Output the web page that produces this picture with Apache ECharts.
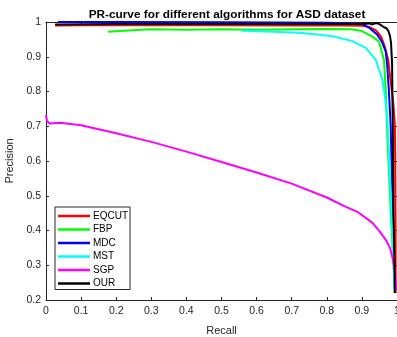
<!DOCTYPE html>
<html><head><meta charset="utf-8">
<script src="https://cdn.jsdelivr.net/npm/echarts@6/dist/echarts.min.js"></script>
<style>html,body{margin:0;padding:0;background:#fff}#c{width:397px;height:337px}</style>
</head><body><div id="c"></div>
<script>
var seriesNames = ['EQCUT', 'FBP', 'MDC', 'MST', 'SGP', 'OUR'];
var seriesColors = ['#ff0000', '#00ff00', '#0000ff', '#00ffff', '#ff00ff', '#000000'];
var xTicks = [0, 0.1, 0.2, 0.3, 0.4, 0.5, 0.6, 0.7, 0.8, 0.9, 1];
var yTicks = [0.2, 0.3, 0.4, 0.5, 0.6, 0.7, 0.8, 0.9, 1];

// [recall, precision]
var eqcut = [[0.026,0.99],[0.1,0.991],[0.3,0.991],[0.5,0.991],[0.7,0.99],[0.85,0.99],[0.9,0.989],[0.92,0.986],[0.94,0.976],[0.955,0.957],[0.965,0.93],[0.975,0.89],[0.983,0.82],[0.99,0.76],[0.994,0.7],[0.995,0.6],[0.996,0.4],[0.996,0.22]];
var fbp = [[0.177,0.972],[0.22,0.975],[0.3,0.979],[0.4,0.978],[0.5,0.979],[0.6,0.978],[0.7,0.979],[0.8,0.98],[0.87,0.979],[0.9,0.974],[0.93,0.958],[0.949,0.943],[0.963,0.89],[0.968,0.8],[0.973,0.66],[0.982,0.46],[0.99,0.3],[0.994,0.22]];
var mdc = [[0.034,1.0],[0.2,1.0],[0.5,0.999],[0.8,0.998],[0.9,0.995],[0.92,0.984],[0.944,0.963],[0.957,0.943],[0.968,0.915],[0.972,0.876],[0.977,0.8],[0.982,0.7],[0.987,0.5],[0.991,0.35],[0.994,0.22]];
var mst = [[0.557,0.975],[0.65,0.972],[0.72,0.969],[0.78,0.963],[0.82,0.958],[0.873,0.945],[0.912,0.925],[0.94,0.89],[0.958,0.835],[0.965,0.79],[0.972,0.73],[0.98,0.55],[0.988,0.36],[0.994,0.22]];
var sgp = [[0,0.732],[0.003,0.715],[0.01,0.708],[0.04,0.71],[0.1,0.703],[0.2,0.68],[0.3,0.655],[0.4,0.627],[0.5,0.597],[0.6,0.567],[0.7,0.535],[0.8,0.495],[0.85,0.47],[0.89,0.452],[0.93,0.422],[0.95,0.398],[0.97,0.37],[0.98,0.35],[0.99,0.31],[0.995,0.27],[0.998,0.23]];
var our = [[0.026,0.993],[0.2,0.994],[0.5,0.994],[0.8,0.994],[0.9,0.994],[0.92,0.996],[0.93,0.993],[0.94,0.997],[0.95,0.994],[0.963,0.985],[0.97,0.982],[0.975,0.975],[0.98,0.96],[0.983,0.94],[0.986,0.88],[0.988,0.7],[0.99,0.45],[0.993,0.3],[0.994,0.22]];

var allData = [eqcut, fbp, mdc, mst, sgp, our];
var FONT = 'Liberation Sans, Arial, sans-serif';
var axisCol = '#262626';

var chart = echarts.init(document.getElementById('c'), null, {renderer: 'canvas'});
function baseAxis(extra) {
  return Object.assign({
    type: 'value', interval: 0.1,
    axisLine: {show: true, onZero: false, lineStyle: {color: axisCol, width: 1}},
    axisTick: {show: true, inside: true, length: 3, lineStyle: {color: axisCol}},
    splitLine: {show: false}
  }, extra);
}
chart.setOption({
  animation: false,
  title: {text: 'PR-curve for different algorithms for ASD dataset', left: 222, top: 4, textAlign: 'center',
    textStyle: {fontFamily: FONT, fontSize: 11.8, fontWeight: 'bold', color: '#000'}},
  grid: {left: 46, top: 22, width: 351, height: 278, containLabel: false, outerBoundsMode: 'none'},
  legend: {orient: 'vertical', left: 55, top: 207, data: seriesNames,
    icon: 'rect', itemWidth: 32, itemHeight: 2.5, itemGap: 1.5,
    padding: [3, 2, 0, 3], borderColor: '#262626', borderWidth: 1, backgroundColor: '#fff',
    textStyle: {fontFamily: FONT, fontSize: 10, color: '#000', lineHeight: 12, padding: [0,0,0,-2]}},
  xAxis: [
    baseAxis({min: 0, max: 1, position: 'bottom', name: 'Recall', nameLocation: 'middle', nameGap: 25,
      nameTextStyle: {fontFamily: FONT, fontSize: 11, color: axisCol},
      axisLabel: {fontFamily: FONT, fontSize: 10.5, color: axisCol, margin: 6}}),
    baseAxis({min: 0, max: 1, position: 'top', axisLabel: {show: false}})
  ],
  yAxis: [
    baseAxis({min: 0.2, max: 1, position: 'left', name: 'Precision', nameLocation: 'middle', nameGap: 30,
      nameTextStyle: {fontFamily: FONT, fontSize: 11, color: axisCol},
      axisLabel: {fontFamily: FONT, fontSize: 10.5, color: axisCol, margin: 5}}),
    baseAxis({min: 0.2, max: 1, position: 'right', axisLabel: {show: false}})
  ],
  series: seriesNames.map(function (n, i) {
    return {name: n, type: 'line', data: allData[i], showSymbol: false, symbol: 'none',
      lineStyle: {color: seriesColors[i], width: 2}, itemStyle: {color: seriesColors[i]},
      clip: true, z: 2 + i};
  })
});
</script></body></html>
